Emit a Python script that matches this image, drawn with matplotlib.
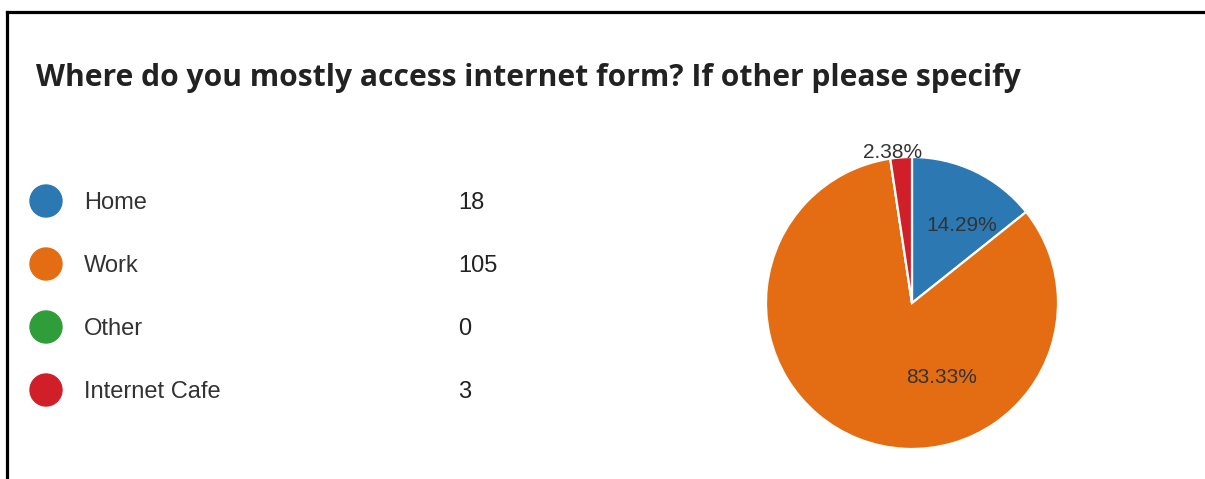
import matplotlib.pyplot as plt
from matplotlib.lines import Line2D
from matplotlib.patches import Circle

# survey responses
categories = ["Home", "Work", "Other", "Internet Cafe"]
counts = [18, 105, 0, 3]
colors = ["#2b78b3", "#e46d13", "#2f9e3a", "#d11f2a"]

title = "Where do you mostly access internet form? If other please specify"

# where the percentage labels sit, in units of the pie radius
label_xy = {"Home": (0.34, 0.53), "Work": (0.20, -0.51), "Internet Cafe": (-0.13, 1.03)}

W, H = 1205, 479
fig = plt.figure(figsize=(W / 100, H / 100), dpi=100)
fig.patch.set_facecolor("white")

# pixel-space axes for the frame, title and legend table
bg = fig.add_axes([0, 0, 1, 1])
bg.set_xlim(0, W)
bg.set_ylim(H, 0)
bg.axis("off")

bg.add_line(Line2D([7, W], [12, 12], color="black", lw=2.3))
bg.add_line(Line2D([7, 7], [12, H], color="black", lw=2.3))

bg.text(36, 86, title, fontsize=21.6, fontweight="bold", family="Open Sans",
        color="#222222", va="baseline")

row_y = [201, 264, 327, 390]
for name, n, c, y in zip(categories, counts, colors, row_y):
    bg.add_patch(Circle((46, y), 16, color=c))
    bg.text(84, y + 8, name, fontsize=17, family="Liberation Sans",
            color="#333333", va="baseline")
    bg.text(458, y + 8, str(n), fontsize=17, family="Liberation Sans",
            color="#222222", va="baseline")

# pie: centre at (912, 303) px, radius 146 px
r = 146
ax = fig.add_axes([(912 - r) / W, (H - 303 - r) / H, 2 * r / W, 2 * r / H])
wedges, _ = ax.pie(counts, colors=colors, startangle=90, counterclock=False,
                   wedgeprops=dict(edgecolor="white", linewidth=1.6))
ax.set_xlim(-1, 1)
ax.set_ylim(-1, 1)
ax.set_aspect("equal")
ax.axis("off")

total = sum(counts)
for name, n in zip(categories, counts):
    if n == 0:
        continue
    x, y = label_xy[name]
    ax.text(x, y, f"{100 * n / total:.2f}%", fontsize=15, family="Liberation Sans",
            color="#333333", ha="center", va="center", clip_on=False)

fig.savefig("out.png", dpi=100)
